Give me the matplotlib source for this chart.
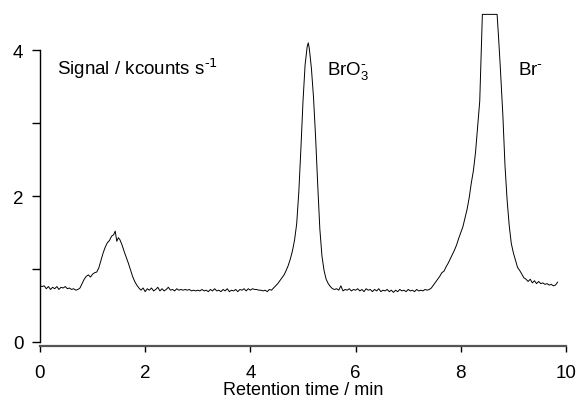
import numpy as np
import matplotlib.pyplot as plt

plt.rcParams['font.family'] = ['Liberation Sans', 'DejaVu Sans']
plt.rcParams['mathtext.default'] = 'regular'

# retention time (min) and detector signal (kcounts/s)
baseline1_t = [0.00, 0.04, 0.08, 0.12, 0.16, 0.20, 0.24, 0.28, 0.32, 0.36,
               0.40, 0.44, 0.48, 0.52, 0.56, 0.60, 0.64, 0.68, 0.72, 0.76]
baseline1_v = [0.77, 0.76, 0.77, 0.73, 0.76, 0.72, 0.75, 0.73, 0.76, 0.72,
               0.75, 0.74, 0.76, 0.73, 0.74, 0.72, 0.73, 0.71, 0.72, 0.74]

peak1_t = [0.80, 0.84, 0.88, 0.92, 0.96, 1.00, 1.04, 1.08, 1.12, 1.16,
           1.20, 1.24, 1.28, 1.32, 1.36, 1.40, 1.43, 1.46, 1.49, 1.52,
           1.56, 1.60, 1.64, 1.68, 1.72, 1.76, 1.80, 1.84, 1.88, 1.92]
peak1_v = [0.80, 0.86, 0.90, 0.92, 0.89, 0.93, 0.95, 0.96, 1.02, 1.12,
           1.22, 1.30, 1.36, 1.39, 1.45, 1.47, 1.52, 1.38, 1.43, 1.40,
           1.33, 1.24, 1.16, 1.08, 0.99, 0.90, 0.83, 0.78, 0.74, 0.71]

baseline2_t = [1.96, 2.00, 2.04, 2.08, 2.12, 2.16, 2.20, 2.24, 2.28, 2.32,
               2.36, 2.40, 2.44, 2.48, 2.52, 2.56, 2.60, 2.64, 2.68, 2.72,
               2.76, 2.80, 2.84, 2.88, 2.92, 2.96, 3.00, 3.04, 3.08, 3.12,
               3.16, 3.20, 3.24, 3.28, 3.32, 3.36, 3.40, 3.44, 3.48, 3.52,
               3.56, 3.60, 3.64, 3.68, 3.72, 3.76, 3.80, 3.84, 3.88, 3.92,
               3.96, 4.00, 4.04, 4.08, 4.12, 4.16, 4.20, 4.24, 4.28, 4.32,
               4.36, 4.40]
baseline2_v = [0.74, 0.69, 0.73, 0.71, 0.74, 0.70, 0.72, 0.75, 0.70, 0.73,
               0.70, 0.72, 0.75, 0.71, 0.72, 0.70, 0.73, 0.71, 0.72, 0.71,
               0.72, 0.71, 0.72, 0.70, 0.71, 0.70, 0.71, 0.70, 0.72, 0.70,
               0.71, 0.69, 0.72, 0.70, 0.73, 0.70, 0.71, 0.69, 0.72, 0.70,
               0.73, 0.69, 0.71, 0.70, 0.72, 0.69, 0.72, 0.71, 0.73, 0.70,
               0.73, 0.71, 0.73, 0.72, 0.72, 0.71, 0.71, 0.70, 0.71, 0.69,
               0.72, 0.71]

bro3_t = [4.44, 4.48, 4.52, 4.56, 4.60, 4.64, 4.68, 4.72, 4.76, 4.80,
          4.84, 4.88, 4.92, 4.96, 5.00, 5.04, 5.08, 5.10, 5.12, 5.16,
          5.20, 5.24, 5.28, 5.32, 5.36, 5.40, 5.44, 5.48, 5.52, 5.56]
bro3_v = [0.74, 0.77, 0.80, 0.84, 0.88, 0.92, 0.98, 1.05, 1.14, 1.25,
          1.40, 1.62, 2.05, 2.65, 3.30, 3.80, 4.05, 4.10, 4.02, 3.75,
          3.35, 2.80, 2.15, 1.55, 1.18, 0.98, 0.86, 0.80, 0.76, 0.73]

baseline3_t = [5.60, 5.64, 5.68, 5.72, 5.76, 5.80, 5.84, 5.88, 5.92, 5.96,
               6.00, 6.04, 6.08, 6.12, 6.16, 6.20, 6.24, 6.28, 6.32, 6.36,
               6.40, 6.44, 6.48, 6.52, 6.56, 6.60, 6.64, 6.68, 6.72, 6.76,
               6.80, 6.84, 6.88, 6.92, 6.96, 7.00, 7.04, 7.08, 7.12, 7.16,
               7.20, 7.24, 7.28, 7.32, 7.36, 7.40, 7.44]
baseline3_v = [0.72, 0.73, 0.71, 0.77, 0.70, 0.72, 0.71, 0.73, 0.70, 0.72,
               0.71, 0.73, 0.70, 0.72, 0.69, 0.73, 0.71, 0.72, 0.69, 0.72,
               0.70, 0.73, 0.69, 0.71, 0.70, 0.72, 0.69, 0.71, 0.68, 0.71,
               0.69, 0.72, 0.70, 0.71, 0.69, 0.72, 0.70, 0.71, 0.69, 0.72,
               0.70, 0.71, 0.70, 0.72, 0.71, 0.72, 0.74]

br_t = [7.48, 7.52, 7.56, 7.60, 7.64, 7.68, 7.72, 7.76, 7.80, 7.84,
        7.88, 7.92, 7.96, 8.00, 8.04, 8.08, 8.12, 8.16, 8.20, 8.24,
        8.28, 8.32, 8.36, 8.41, 8.69, 8.72, 8.75, 8.80, 8.84, 8.88,
        8.92, 8.96, 9.00, 9.04, 9.08, 9.12, 9.16, 9.20, 9.24, 9.28,
        9.32, 9.36, 9.40, 9.44, 9.48, 9.52, 9.56, 9.60, 9.64, 9.68,
        9.72, 9.76, 9.80, 9.84]
br_v = [0.78, 0.82, 0.86, 0.90, 0.95, 0.97, 1.03, 1.08, 1.14, 1.20,
        1.26, 1.33, 1.42, 1.50, 1.58, 1.70, 1.82, 1.98, 2.18, 2.35,
        2.60, 2.95, 3.30, 4.49, 4.49, 4.15, 3.78, 3.10, 2.42, 1.95,
        1.60, 1.35, 1.22, 1.12, 1.02, 0.98, 0.93, 0.88, 0.86, 0.83,
        0.86, 0.81, 0.84, 0.80, 0.83, 0.80, 0.81, 0.79, 0.80, 0.78,
        0.79, 0.77, 0.78, 0.82]

x_ticks = [0, 2, 4, 6, 8, 10]
y_ticks = [0, 2, 4]
y_minor = [1, 3]

t = baseline1_t + peak1_t + baseline2_t + bro3_t + baseline3_t + br_t
v = baseline1_v + peak1_v + baseline2_v + bro3_v + baseline3_v + br_v

fig = plt.figure(figsize=(5.81, 4.02), dpi=100)
ax = fig.add_axes([40 / 581, 59 / 402, 526 / 581, 332 / 402])

ax.plot(t, v, color='black', lw=0.7)

ax.set_xlim(0, 10)
ax.set_ylim(0, 4.55)

for s in ['top', 'right']:
    ax.spines[s].set_visible(False)
ax.spines['left'].set_bounds(0, 4)
ax.spines['left'].set_linewidth(1.0)
ax.spines['bottom'].set_bounds(0, 10)
ax.spines['bottom'].set_position(('outward', 3))
ax.spines['bottom'].set_linewidth(1.6)
ax.spines['bottom'].set_color('#555555')

ax.set_xticks(x_ticks)
ax.set_yticks(y_ticks)
ax.set_yticks(y_minor, minor=True)
ax.tick_params(axis='y', which='both', direction='out', length=6, width=1.0, pad=6, labelsize=13.5)
ax.tick_params(axis='x', direction='out', length=4, width=1.0, pad=9, labelsize=13.5)

ax.set_xlabel('Retention time / min', fontsize=13, labelpad=0)

ax.text(0.32, 3.67, r'Signal / kcounts s$^{\text{-1}}$', fontsize=13.5)
ax.text(5.45, 3.67, r'BrO$_3^{\text{-}}$', fontsize=13.5)
ax.text(9.09, 3.67, r'Br$^{\text{-}}$', fontsize=13.5)

fig.savefig('out.png', dpi=100)
